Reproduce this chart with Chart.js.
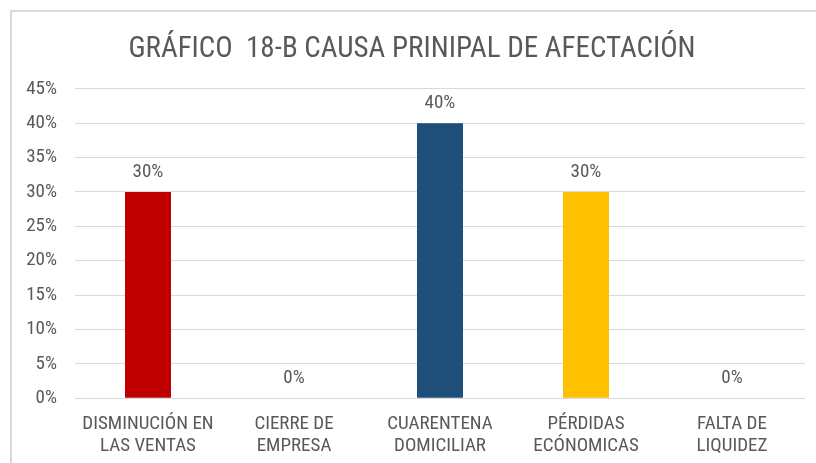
<!DOCTYPE html>
<html>
<head>
<meta charset="utf-8">
<script src="https://cdn.jsdelivr.net/npm/chart.js@4/dist/chart.umd.min.js"></script>
<style>
  html, body { margin: 0; padding: 0; background: #ffffff; overflow: hidden; }
  #frame { position: absolute; left: 10px; top: 10px; width: 830px; height: 470px;
           border: 2px solid #d9d9d9; box-sizing: border-box; }
  #wrap { position: absolute; left: 0; top: 0; width: 816px; height: 463px; }
</style>
</head>
<body>
<div id="frame"></div>
<div id="wrap"><canvas id="chart" width="816" height="463"></canvas></div>
<script>
const categories = [
  ["DISMINUCIÓN EN", "LAS VENTAS"],
  ["CIERRE DE", "EMPRESA"],
  ["CUARENTENA", "DOMICILIAR"],
  ["PÉRDIDAS", "ECÓNOMICAS"],
  ["FALTA DE", "LIQUIDEZ"]
];
const percentages = [30, 0, 40, 30, 0];
const barColors = ["#C00000", "#C00000", "#1F4E79", "#FFC000", "#FFC000"];
const yTicks = [0, 5, 10, 15, 20, 25, 30, 35, 40, 45];
const title = "GRÁFICO  18-B CAUSA PRINIPAL DE AFECTACIÓN";

const FONT = "'Liberation Sans Narrow', 'Roboto Condensed', 'Open Sans', sans-serif";
const TEXT = "#595959";

// prints each bar's percentage just above its top
const valueLabels = {
  id: "valueLabels",
  afterDatasetsDraw(chart) {
    const { ctx } = chart;
    const meta = chart.getDatasetMeta(0);
    ctx.save();
    ctx.font = "19px " + FONT;
    ctx.fillStyle = TEXT;
    ctx.textAlign = "center";
    ctx.textBaseline = "alphabetic";
    meta.data.forEach((bar, i) => {
      ctx.fillText(percentages[i] + "%", bar.x, bar.y - 15);
    });
    ctx.restore();
  }
};

new Chart(document.getElementById("chart"), {
  type: "bar",
  data: {
    labels: categories,
    datasets: [{
      data: percentages,
      backgroundColor: barColors,
      borderWidth: 0,
      categoryPercentage: 1,
      barPercentage: 0.315
    }]
  },
  options: {
    responsive: false,
    animation: false,
    layout: { padding: { left: 19, right: 11, top: 32, bottom: -9 } },
    plugins: {
      legend: { display: false },
      tooltip: { enabled: false },
      title: {
        display: true,
        text: title,
        color: TEXT,
        font: { family: FONT, size: 29, weight: "normal" },
        padding: { top: 0, bottom: 22 }
      }
    },
    scales: {
      x: {
        grid: { display: false, drawTicks: false },
        border: { display: false },
        ticks: {
          color: TEXT,
          font: { family: FONT, size: 19, lineHeight: 1.15 },
          padding: 15,
          maxRotation: 0,
          autoSkip: false
        }
      },
      y: {
        min: 0,
        max: 45,
        afterBuildTicks(axis) { axis.ticks = yTicks.map(v => ({ value: v })); },
        afterFit(axis) { axis.width = 56; },
        grid: { color: "#d9d9d9", lineWidth: 1, drawTicks: false },
        border: { display: false },
        ticks: {
          color: TEXT,
          font: { family: FONT, size: 19 },
          padding: 18,
          callback: v => v + "%"
        }
      }
    }
  },
  plugins: [valueLabels]
});
</script>
</body>
</html>
